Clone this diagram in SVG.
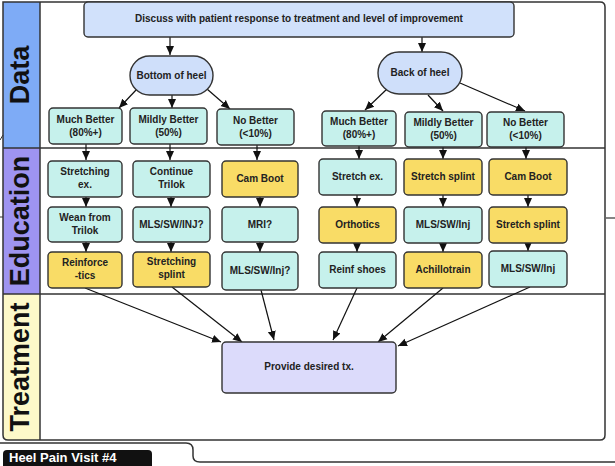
<svg xmlns="http://www.w3.org/2000/svg" width="615" height="466" viewBox="0 0 615 466">
<defs>
<marker id="ah" markerWidth="10" markerHeight="10" refX="9" refY="5" orient="auto" markerUnits="userSpaceOnUse">
<path d="M0,1 L9,5 L0,9 Z" fill="#111"/>
</marker>
<style>
.bx{stroke:#333;stroke-width:1.4}
.aq{fill:#c6f1ec}
.yl{fill:#f9dc66}
.bl{fill:#d1e1fb}
.t{font-family:"Liberation Sans",Arial,sans-serif;font-weight:bold;font-size:10px;fill:#222;text-anchor:middle}
.lane{font-family:"Liberation Sans",Arial,sans-serif;font-weight:bold;font-size:27px;fill:#111;text-anchor:middle}
.c line,.c path{stroke:#111;stroke-width:1.2;fill:none;marker-end:url(#ah)}
</style>
</defs>
<rect width="615" height="466" fill="#fff"/>

<!-- swimlanes -->
<g id="lanes">
<rect x="3" y="2" width="37" height="146" fill="#7eabf6"/>
<rect x="3" y="148" width="37" height="146" fill="#9e94f1"/>
<path d="M3,294 H40 V440 H8 Q3,440 3,435 Z" fill="#fdf9c9"/>
<path d="M3,2 H600 Q605,2 605,7 V435 Q605,440 600,440 H8 Q3,440 3,435 Z" fill="none" stroke="#333" stroke-width="1.5"/>
<line x1="40" y1="2" x2="40" y2="440" stroke="#333" stroke-width="1.5"/>
<line x1="3" y1="148" x2="605" y2="148" stroke="#333" stroke-width="1.5"/>
<line x1="3" y1="294" x2="605" y2="294" stroke="#333" stroke-width="1.5"/>
<text class="lane" transform="translate(29,75) rotate(-90)">Data</text>
<text class="lane" transform="translate(29,221) rotate(-90)">Education</text>
<text class="lane" transform="translate(29,367) rotate(-90)">Treatment</text>
<line x1="606" y1="218" x2="615" y2="218" stroke="#333" stroke-width="1.2"/>
<line x1="0" y1="217" x2="3" y2="217" stroke="#333" stroke-width="1"/>
<line x1="0" y1="140" x2="3" y2="135" stroke="#333" stroke-width="1"/>
</g>

<!-- connectors -->
<g id="connectors" class="c">
<line x1="170" y1="37" x2="170" y2="55"/>
<line x1="422" y1="37" x2="422" y2="52"/>
<line x1="137" y1="89" x2="119" y2="108"/>
<line x1="172" y1="95" x2="172" y2="108"/>
<line x1="207" y1="89" x2="230" y2="109"/>
<line x1="387" y1="89" x2="365" y2="110"/>
<line x1="428" y1="95" x2="443" y2="111"/>
<line x1="460" y1="83" x2="525" y2="111"/>
<line x1="86" y1="144" x2="86" y2="160"/>
<line x1="170" y1="144" x2="170" y2="160"/>
<line x1="257" y1="145" x2="257" y2="160"/>
<line x1="359" y1="146" x2="359" y2="159"/>
<line x1="443" y1="147" x2="443" y2="159"/>
<line x1="526" y1="147" x2="526" y2="159"/>
<line x1="86" y1="197" x2="86" y2="207"/>
<line x1="171" y1="197" x2="171" y2="207"/>
<line x1="260" y1="197" x2="260" y2="207"/>
<line x1="357" y1="195" x2="357" y2="207"/>
<line x1="443" y1="195" x2="443" y2="207"/>
<line x1="528" y1="195" x2="528" y2="207"/>
<line x1="86" y1="242" x2="86" y2="252"/>
<line x1="171" y1="242" x2="171" y2="252"/>
<line x1="260" y1="242" x2="260" y2="252"/>
<line x1="357" y1="243" x2="357" y2="252"/>
<line x1="443" y1="243" x2="443" y2="252"/>
<line x1="528" y1="243" x2="528" y2="251"/>
<line x1="85" y1="288" x2="221" y2="342"/>
<line x1="172" y1="287" x2="242" y2="342"/>
<line x1="261" y1="290" x2="274" y2="340"/>
<line x1="357" y1="288" x2="333" y2="340"/>
<line x1="443" y1="288" x2="378" y2="342"/>
<line x1="530" y1="287" x2="398" y2="346"/>
</g>

<!-- nodes -->
<g id="n-discuss"><rect class="bx bl" x="84" y="2" width="430" height="35" rx="4"/><text class="t" x="299" y="22">Discuss with patient response to treatment and level of improvement</text></g>
<g id="n-bottom"><rect class="bx" fill="#cfdffa" x="130" y="56" width="83" height="39" rx="19.5"/><text class="t" x="171.5" y="79">Bottom of heel</text></g>
<g id="n-back"><rect class="bx" fill="#cfdffa" x="378" y="52" width="84" height="42" rx="21"/><text class="t" x="420" y="76">Back of heel</text></g>

<g id="n-b-much"><rect class="bx aq" x="49" y="108" width="73" height="36" rx="4"/><text class="t" x="85.5" y="123">Much Better</text><text class="t" x="85.5" y="136">(80%+)</text></g>
<g id="n-b-mild"><rect class="bx aq" x="130" y="108" width="77" height="36" rx="4"/><text class="t" x="168.5" y="123">Mildly Better</text><text class="t" x="168.5" y="136">(50%)</text></g>
<g id="n-b-no"><rect class="bx aq" x="217" y="109" width="77" height="36" rx="4"/><text class="t" x="255.5" y="124">No Better</text><text class="t" x="255.5" y="137">(&lt;10%)</text></g>
<g id="n-k-much"><rect class="bx aq" x="322" y="111" width="74" height="35" rx="4"/><text class="t" x="359" y="125">Much Better</text><text class="t" x="359" y="138">(80%+)</text></g>
<g id="n-k-mild"><rect class="bx aq" x="405" y="112" width="77" height="35" rx="4"/><text class="t" x="443.5" y="126">Mildly Better</text><text class="t" x="443.5" y="139">(50%)</text></g>
<g id="n-k-no"><rect class="bx aq" x="487" y="112" width="77" height="35" rx="4"/><text class="t" x="525.5" y="126">No Better</text><text class="t" x="525.5" y="139">(&lt;10%)</text></g>

<g id="n-stretching-ex"><rect class="bx aq" x="48" y="161" width="74" height="36" rx="4"/><text class="t" x="85" y="175">Stretching</text><text class="t" x="85" y="188">ex.</text></g>
<g id="n-continue"><rect class="bx aq" x="133" y="161" width="77" height="36" rx="4"/><text class="t" x="171.5" y="175">Continue</text><text class="t" x="171.5" y="188">Trilok</text></g>
<g id="n-cam1"><rect class="bx yl" x="222" y="161" width="76" height="36" rx="4"/><text class="t" x="260" y="182">Cam Boot</text></g>
<g id="n-wean"><rect class="bx aq" x="48" y="207" width="74" height="35" rx="4"/><text class="t" x="85" y="221">Wean from</text><text class="t" x="85" y="234">Trilok</text></g>
<g id="n-mls1"><rect class="bx aq" x="133" y="207" width="77" height="35" rx="4"/><text class="t" x="171.5" y="228">MLS/SW/INJ?</text></g>
<g id="n-mri"><rect class="bx aq" x="222" y="207" width="76" height="35" rx="4"/><text class="t" x="260" y="228">MRI?</text></g>
<g id="n-reinforce"><rect class="bx yl" x="48" y="252" width="74" height="36" rx="4"/><text class="t" x="85" y="266">Reinforce</text><text class="t" x="85" y="279">-tics</text></g>
<g id="n-stretching-splint"><rect class="bx yl" x="133" y="252" width="77" height="35" rx="4"/><text class="t" x="171.5" y="265">Stretching</text><text class="t" x="171.5" y="278">splint</text></g>
<g id="n-mls2"><rect class="bx aq" x="222" y="252" width="76" height="38" rx="4"/><text class="t" x="260" y="274">MLS/SW/Inj?</text></g>

<g id="n-stretch-ex"><rect class="bx aq" x="319" y="159" width="77" height="36" rx="4"/><text class="t" x="357.5" y="180">Stretch ex.</text></g>
<g id="n-stretch-splint1"><rect class="bx yl" x="404" y="159" width="78" height="36" rx="4"/><text class="t" x="443" y="180">Stretch splint</text></g>
<g id="n-cam2"><rect class="bx yl" x="489" y="159" width="78" height="36" rx="4"/><text class="t" x="528" y="180">Cam Boot</text></g>
<g id="n-orthotics"><rect class="bx yl" x="319" y="207" width="77" height="36" rx="4"/><text class="t" x="357.5" y="228">Orthotics</text></g>
<g id="n-mls3"><rect class="bx aq" x="404" y="207" width="78" height="36" rx="4"/><text class="t" x="443" y="228">MLS/SW/Inj</text></g>
<g id="n-stretch-splint2"><rect class="bx yl" x="489" y="207" width="78" height="36" rx="4"/><text class="t" x="528" y="228">Stretch splint</text></g>
<g id="n-reinf-shoes"><rect class="bx aq" x="319" y="252" width="77" height="36" rx="4"/><text class="t" x="357.5" y="273">Reinf shoes</text></g>
<g id="n-achillo"><rect class="bx yl" x="404" y="252" width="78" height="36" rx="4"/><text class="t" x="443" y="273">Achillotrain</text></g>
<g id="n-mls4"><rect class="bx aq" x="489" y="251" width="78" height="36" rx="4"/><text class="t" x="528" y="272">MLS/SW/Inj</text></g>

<g id="n-provide"><rect class="bx" fill="#dcdbfb" x="222" y="342" width="174" height="51" rx="4"/><text class="t" x="309" y="370">Provide desired tx.</text></g>

<!-- bottom tab -->
<g id="tab">
<path d="M0,443 H186 Q193,443 193,450 V456 Q193,462 200,462 H615" fill="none" stroke="#333" stroke-width="1.5"/>
<rect x="3" y="450" width="149" height="26" rx="4" fill="#111"/>
<text x="9" y="462" font-family="Liberation Sans,Arial,sans-serif" font-weight="bold" font-size="13" fill="#fff">Heel Pain Visit #4</text>
</g>
</svg>
